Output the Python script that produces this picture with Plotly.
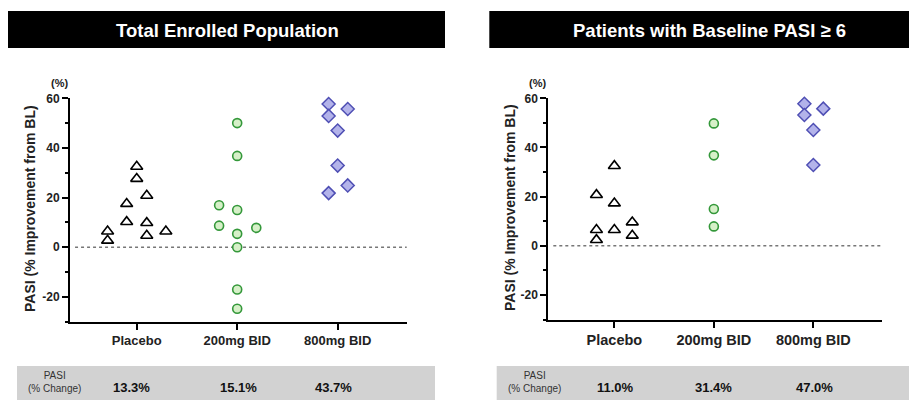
import plotly.graph_objects as go

W, H = 909, 400

categories = ["Placebo", "200mg BID", "800mg BID"]
y_ticks = [-20, 0, 20, 40, 60]

# Total Enrolled Population
left_placebo = [6.4, 2.7, 17.5, 10.2, 32.5, 27.6, 20.8, 9.8, 4.7, 6.4]
left_placebo_jit = [-0.29, -0.29, -0.1, -0.1, 0, 0, 0.1, 0.1, 0.1, 0.29]
left_200 = [50, 36.8, 16.9, 15.0, 8.7, 7.8, 5.4, 0, -17, -24.8]
left_200_jit = [0, 0, -0.18, 0, -0.18, 0.19, 0, 0, 0, 0]
left_800 = [57.7, 55.7, 52.9, 47.0, 32.9, 24.9, 21.8]
left_800_jit = [-0.09, 0.1, -0.09, 0, 0, 0.1, -0.09]
left_summary = ["13.3%", "15.1%", "43.7%"]

# Patients with Baseline PASI >= 6
right_placebo = [20.7, 6.5, 2.4, 32.5, 17.3, 6.5, 9.6, 4.2]
right_placebo_jit = [-0.18, -0.18, -0.18, 0, 0, 0, 0.18, 0.18]
right_200 = [49.8, 36.8, 15.0, 7.9]
right_200_jit = [0, 0, 0, 0]
right_800 = [57.8, 55.8, 53.2, 47.1, 32.9]
right_800_jit = [-0.09, 0.1, -0.09, 0, 0]
right_summary = ["11.0%", "31.4%", "47.0%"]

FONT = "Liberation Sans, Arial, sans-serif"

styles = [
    dict(symbol="triangle-up", size=10.5, color="white", line=dict(color="black", width=1.6)),
    dict(symbol="circle", size=9, color="#d6f0c8", line=dict(color="#34983a", width=1.6)),
    dict(symbol="diamond", size=10, color="#b3b3ea", line=dict(color="#4f4fb4", width=1.5)),
]

fig = go.Figure()

def add_panel(groups, xa, ya):
    for i, (vals, jit) in enumerate(groups):
        fig.add_trace(go.Scatter(
            x=[i + j for j in jit], y=vals, mode="markers",
            marker=styles[i], xaxis=xa, yaxis=ya, showlegend=False,
            cliponaxis=False, hoverinfo="y"))

add_panel([(left_placebo, left_placebo_jit), (left_200, left_200_jit), (left_800, left_800_jit)], "x", "y")
add_panel([(right_placebo, right_placebo_jit), (right_200, right_200_jit), (right_800, right_800_jit)], "x2", "y2")

def px(x):
    return x / W

def py(y):
    # observed: rendered page maps paper fraction to 7 + 393 * (1 - frac)
    return 1 - (y - 7) / 393.0

def yaxis_cfg(domain, anchor):
    return dict(domain=domain, anchor=anchor, range=[-30, 60], tickvals=y_ticks,
                ticktext=["<b>%d</b>" % v for v in y_ticks],
                ticks="outside", ticklen=6, tickwidth=2, tickcolor="black",
                showline=True, linecolor="black", linewidth=2, showgrid=False,
                zeroline=False, tickfont=dict(family=FONT, size=12, color="#222"),
                minor=dict(dtick=10, tick0=0, ticks="outside", ticklen=3, tickwidth=1.5,
                           tickcolor="black", showgrid=False))

def xaxis_cfg(domain, anchor, fsize):
    return dict(domain=domain, anchor=anchor, range=[-0.664, 2.687],
                tickvals=[0, 1, 2], ticktext=["<b>%s</b>" % c for c in categories],
                ticks="outside", ticklen=6, tickwidth=2, tickcolor="black", showline=True,
                linecolor="black", linewidth=2, showgrid=False, zeroline=False,
                tickfont=dict(family=FONT, size=fsize, color="#222"))

fig.update_layout(
    width=W, height=H, margin=dict(l=0, r=0, t=0, b=0),
    paper_bgcolor="white", plot_bgcolor="white",
    xaxis=xaxis_cfg([px(70), px(406.7)], "y", 13),
    yaxis=yaxis_cfg([py(321.7), py(98.3)], "x"),
    xaxis2=xaxis_cfg([px(548.3), px(881.7)], "y2", 14.5),
    yaxis2=yaxis_cfg([py(319.6), py(98.3)], "x2"),
)

shapes = []
annotations = []

def note(text, x, y, size, color, bold=False, angle=0):
    annotations.append(dict(text=("<b>%s</b>" % text) if bold else text,
                            x=px(x), y=py(y), xref="paper", yref="paper",
                            xanchor="center", yanchor="middle", showarrow=False,
                            textangle=angle, font=dict(family=FONT, size=size, color=color)))

# zero lines
for xr, yr in [("x domain", "y"), ("x2 domain", "y2")]:
    shapes.append(dict(type="line", xref=xr, yref=yr, x0=0.015, x1=1, y0=0, y1=0,
                       line=dict(color="#777", width=1.5, dash="dot"), layer="below"))

# title bars
shapes.append(dict(type="rect", xref="paper", yref="paper", x0=px(8), x1=px(445),
                   y0=py(48), y1=py(11), fillcolor="black", line=dict(width=0)))
shapes.append(dict(type="rect", xref="paper", yref="paper", x0=px(489.3), x1=1,
                   y0=py(48), y1=py(11), fillcolor="black", line=dict(width=0)))
note("Total Enrolled Population", 227, 30, 18.5, "white", bold=True)
note("Patients with Baseline PASI ≥ 6", 709, 30, 18.5, "white", bold=True)

# summary bands
shapes.append(dict(type="rect", xref="paper", yref="paper", x0=px(17), x1=px(435),
                   y0=0, y1=py(366), fillcolor="#d2d2d2", line=dict(width=0)))
shapes.append(dict(type="rect", xref="paper", yref="paper", x0=px(496.7), x1=1,
                   y0=0, y1=py(366), fillcolor="#d2d2d2", line=dict(width=0)))

def band_text(label_x, xs, vals):
    note("PASI<br>(% Change)", label_x, 382, 10, "#333")
    for x, v in zip(xs, vals):
        note(v, x, 387.5, 13, "#111", bold=True)

band_text(54, [131, 238, 333], left_summary)
band_text(534, [615, 713, 814], right_summary)

# axis titles and (%) labels
for tx, ty, ux in [(30, 209, 59), (510, 208, 537.5)]:
    note("PASI (% Improvement from BL)", tx, ty, 14, "#222", bold=True, angle=-90)
    note("(%)", ux, 82.7, 11, "#222", bold=True)

fig.update_layout(shapes=shapes, annotations=annotations)
post = ("document.body.style.margin='0';document.body.style.overflow='hidden';"
        "var d=document.getElementById('{plot_id}');d.style.position='absolute';"
        "d.style.top='0px';d.style.left='0px';")
fig.write_html("out.html", post_script=post, config={"displayModeBar": False})
